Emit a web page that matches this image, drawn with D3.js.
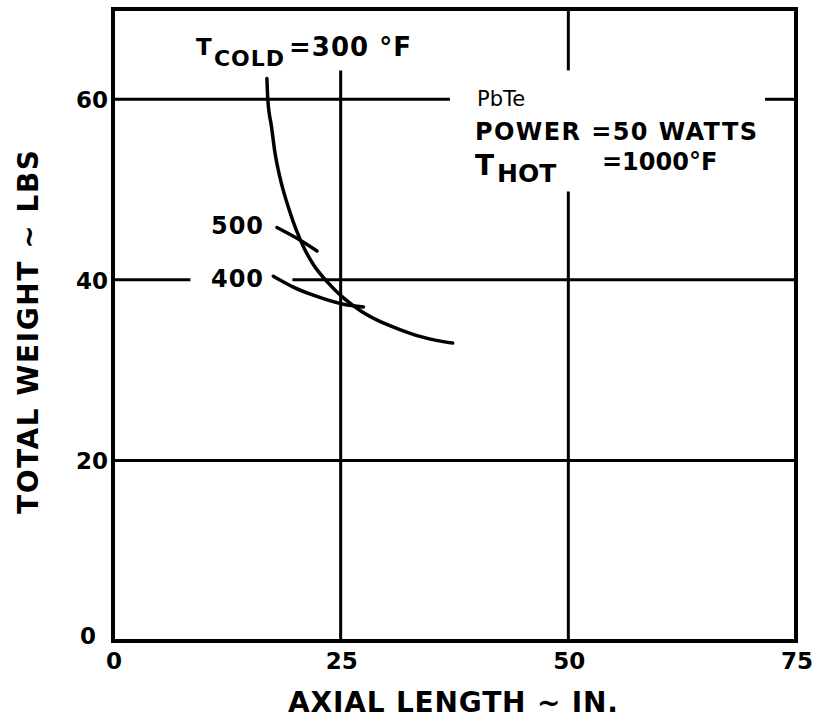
<!DOCTYPE html>
<html><head><meta charset="utf-8">
<script src="https://cdn.jsdelivr.net/npm/d3@7"></script>
<style>
body{margin:0;background:#fff;}
text{font-family:"DejaVu Sans",sans-serif;font-weight:bold;fill:#000;}
</style></head>
<body><svg id="c" width="821" height="721"></svg>
<script>
// Data
const xTicks = [0, 25, 50, 75];
const yTicks = [0, 20, 40, 60];
// T_cold = 300 °F curve
const cold300 = [[16.9,62.3],[17.0,60.0],[17.4,57.0],[17.8,54.0],[18.3,51.5],[19.4,47.6],[20.9,43.7],[22.0,41.7],[23.5,39.8],[25.3,38.0],[27.3,36.5],[29.3,35.4],[31.5,34.5],[33.5,33.8],[35.5,33.3],[37.3,33.0]];
// T_cold = 500 °F short curve
const cold500 = [[18.0,45.8],[20.2,44.6],[22.4,43.2]];
// T_cold = 400 °F short curve
const cold400 = [[17.6,40.4],[19.8,39.2],[22.0,38.3],[25.3,37.3],[27.5,37.0]];
// gridline segments (data units), with gaps where labels sit
const vGrid = [[25,0,63.2],[50,0,49.8],[50,63.2,70]];
const hGrid = [[20,0,75],[40,0,8.5],[40,19.7,75],[60,0,37],[60,71.6,75]];

const svg = d3.select("#c");
const x = d3.scaleLinear().domain([0,75]).range([113,796]);
const y = d3.scaleLinear().domain([0,70]).range([641,9]);

// gridlines
svg.selectAll(".vg").data(vGrid).join("line")
  .attr("x1",d=>x(d[0])).attr("x2",d=>x(d[0]))
  .attr("y1",d=>y(d[1])).attr("y2",d=>y(d[2]))
  .attr("stroke","#000").attr("stroke-width",3);
svg.selectAll(".hg").data(hGrid).join("line")
  .attr("y1",d=>y(d[0])).attr("y2",d=>y(d[0]))
  .attr("x1",d=>x(d[1])).attr("x2",d=>x(d[2]))
  .attr("stroke","#000").attr("stroke-width",3);

// frame
svg.append("rect").attr("x",x(0)).attr("y",y(70)).attr("width",x(75)-x(0)).attr("height",y(0)-y(70))
  .attr("fill","none").attr("stroke","#000").attr("stroke-width",4);

// curves
const line = d3.line().x(d=>x(d[0])).y(d=>y(d[1])).curve(d3.curveMonotoneX);
[cold300, cold500, cold400].forEach(c=>{
  svg.append("path").attr("d",line(c)).attr("fill","none").attr("stroke","#000")
    .attr("stroke-width",3.5).attr("stroke-linecap","round");
});

function label(xp, yp, size, str, len, weight){
  const t = svg.append("text").attr("x",xp).attr("y",yp).attr("font-size",size).text(str);
  if (len) t.attr("textLength",len).attr("lengthAdjust","spacing");
  if (weight) t.style("font-weight",weight);
  return t;
}

// tick labels
svg.selectAll(".xt").data(xTicks).join("text")
  .attr("x",d=>x(d)+1).attr("y",669).attr("text-anchor","middle")
  .attr("font-size",23).text(d=>d);
svg.selectAll(".yt").data(yTicks).join("text")
  .attr("x",d=>d===0?96:108).attr("y",d=>y(d)+(d===0?3:9)).attr("text-anchor","end")
  .attr("font-size",23).text(d=>d);

// axis titles
label(288, 712, 28, "AXIAL LENGTH ~ IN.", 330);
svg.append("text").attr("transform","translate(38,514) rotate(-90)")
  .attr("font-size",28).attr("textLength",364).attr("lengthAdjust","spacing")
  .text("TOTAL WEIGHT ~ LBS");

// curve labels
label(196, 55, 23, "T");
label(214, 66, 22, "COLD", 70);
label(289, 56, 26, "=300 °F", 122);

label(211, 234, 24, "500", 52);
label(211, 287, 24, "400", 52);

// parameter block
label(477, 106, 21, "PbTe", null, "normal");
label(475, 140, 24, "POWER =50 WATTS", 282);
label(475, 175, 28, "T");
label(497, 182, 25, "HOT");
label(602, 170, 24, "=1000°F");
</script></body></html>
